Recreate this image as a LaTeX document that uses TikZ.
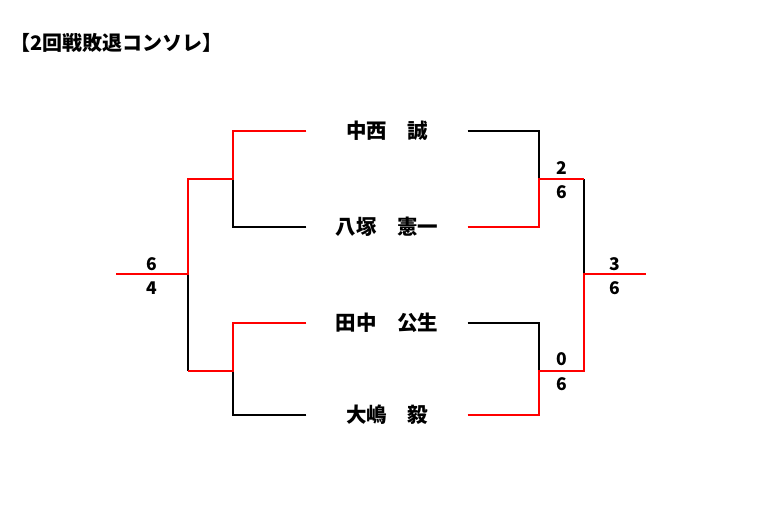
\documentclass[tikz,border=0pt]{standalone}
\usepackage{fontspec}
\setmainfont{Noto Sans CJK JP}
\begin{document}
\begin{tikzpicture}[x=1pt,y=-1pt,
  win/.style={draw=red,line width=2pt},
  lose/.style={draw=black,line width=2pt},
  player/.style={font=\bfseries\fontsize{20.5}{20.5}\selectfont, inner sep=0pt, minimum width=161pt, minimum height=20pt},
  score/.style={font=\bfseries\fontsize{17.5}{17.5}\selectfont, inner sep=0pt},
  titlestyle/.style={font=\bfseries\fontsize{20}{20}\selectfont, inner sep=0pt, anchor=west}]
\useasboundingbox (0,0) rectangle (779,516);
\node[titlestyle] (title) at (10,43) {【2回戦敗退コンソレ】};
\node[player] (p1) at (387,130.7) {中西　誠};
\node[player] (p2) at (387,226.7) {八塚　憲一};
\node[player] (p3) at (387,322.7) {田中　公生};
\node[player] (p4) at (387,414.7) {大嶋　毅};
\coordinate (jL1) at (233,179);
\coordinate (jL2) at (233,371);
\coordinate (cL2) at (188,371);
\coordinate (jL) at (188,274);
\coordinate (outL) at (116,274);
\coordinate (jR1) at (539,179);
\coordinate (cR1) at (584,179);
\coordinate (jR2) at (539,371);
\coordinate (jR) at (584,274);
\coordinate (outR) at (646,274);
% left
\draw[lose] (p2.west) -| (jL1);
\draw[lose] (p4.west) -| (jL2);
\draw[lose] (cL2) -- (jL);
\draw[win] (p1.west) -| (jL1) -| (jL) -- (outL);
\draw[win] (p3.west) -| (jL2) -- (cL2);
% right
\draw[lose] (p1.east) -| (jR1);
\draw[lose] (p3.east) -| (jR2);
\draw[lose] (cR1) -- (jR);
\draw[win] (p2.east) -| (jR1) -- (cR1);
\draw[win] (p4.east) -| (jR2) -| (jR) -- (outR);
% scores
\node[score] (sL1) at (152,264) {6};
\node[score] (sL2) at (152,288) {4};
\node[score] (sR1a) at (562,168) {2};
\node[score] (sR1b) at (562,192) {6};
\node[score] (sR2a) at (562,359) {0};
\node[score] (sR2b) at (562,384) {6};
\node[score] (sFa) at (615,264) {3};
\node[score] (sFb) at (615,288) {6};
\end{tikzpicture}
\end{document}
